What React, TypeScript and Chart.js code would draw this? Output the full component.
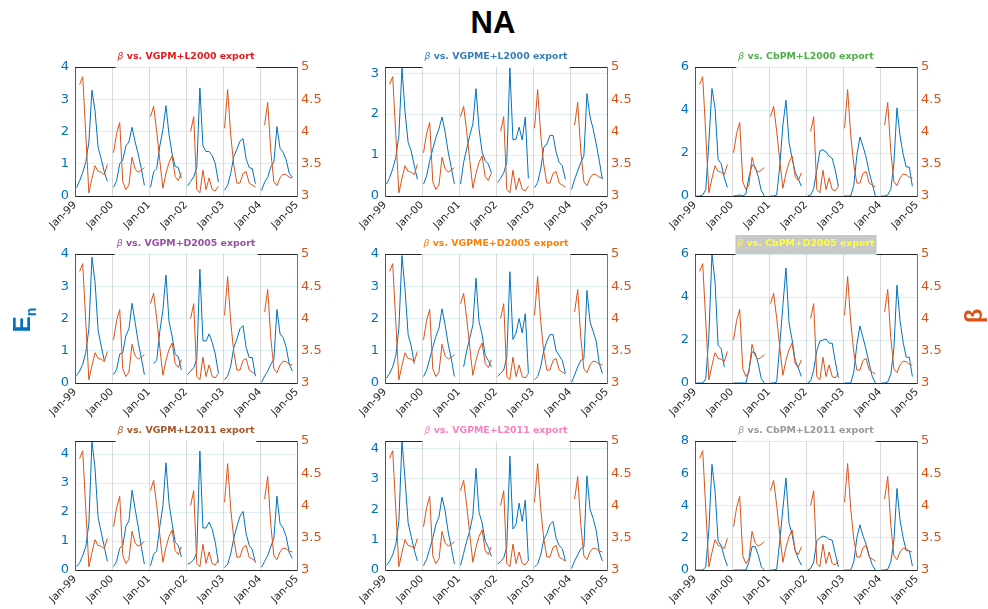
import React, { useEffect, useRef } from 'react';
import { Chart, registerables } from 'chart.js';

Chart.register(...registerables);

const N = null;

// x tick labels (one per January, 1999..2005)
const xTickLabels = ['Jan-99', 'Jan-00', 'Jan-01', 'Jan-02', 'Jan-03', 'Jan-04', 'Jan-05'];

// month index 0..71 (Jan-99 .. Dec-04), values at mid-month; Dec missing
// beta (right axis), same in every panel
const beta = [
  N, 4.73, 4.85, 3.95, 3.05, 3.27, 3.47, 3.38, 3.37, 3.33, 3.49, N,
  3.67, 3.97, 4.14, 3.22, 3.10, 3.17, 3.60, 3.42, 3.37, 3.40, 3.44, N,
  4.23, 4.39, 4.00, 3.55, 3.12, 3.35, 3.52, 3.62, 3.30, 3.24, 3.36, N,
  N, 4.00, 4.23, 3.10, 3.05, 3.40, 3.10, 3.28, 3.10, 3.08, 3.15, N,
  4.05, 4.65, 3.95, 3.48, 3.20, 3.20, 3.35, 3.38, 3.20, 3.17, 3.14, N,
  N, 4.10, 4.45, 3.70, 3.22, 3.16, 3.28, 3.34, 3.33, 3.29, 3.28, N,
];

// En (left axis), one series per panel
const enVGPM_L2000 = [
  0.26, 0.47, 0.73, 1.05, 1.68, 3.28, 2.65, 1.50, 1.15, 0.75, 0.45, N,
  0.27, 0.47, 1.00, 1.12, 1.55, 1.68, 2.13, 1.68, 1.30, 0.85, 0.33, N,
  0.27, 0.75, 0.85, 1.55, 2.05, 2.80, 1.90, 1.30, 0.92, 0.88, 0.55, N,
  0.32, 0.45, 0.60, 0.88, 3.35, 1.55, 1.38, 1.38, 1.25, 1.00, 0.43, N,
  0.18, 0.33, 0.70, 1.22, 1.45, 1.70, 1.78, 1.15, 0.88, 0.85, 0.38, N,
  0.17, 0.43, 0.58, 0.90, 1.05, 2.15, 1.48, 1.35, 1.12, 0.70, 0.58, N,
];
const enVGPME_L2000 = [
  0.29, 0.45, 0.66, 0.94, 1.48, 3.12, 2.05, 1.31, 1.10, 0.74, 0.41, N,
  0.29, 0.49, 0.86, 1.15, 1.43, 1.64, 1.93, 1.56, 1.07, 0.70, 0.29, N,
  0.29, 0.82, 1.15, 1.48, 1.76, 2.62, 1.64, 1.07, 0.86, 0.78, 0.57, N,
  0.33, 0.43, 0.57, 0.82, 3.13, 1.37, 1.39, 1.68, 1.37, 1.93, 0.43, N,
  0.20, 0.33, 0.66, 1.19, 1.27, 1.48, 1.48, 1.07, 0.82, 0.74, 0.41, N,
  0.16, 0.41, 0.61, 0.82, 0.98, 2.50, 1.93, 1.64, 1.27, 0.86, 0.41, N,
];
const enCbPM_L2000 = [
  0, 0, 0.05, 0.30, 2.50, 5.00, 4.10, 1.70, 1.50, 0.85, 0.40, N,
  0, 0.02, 0.05, 0, 0.10, 0.90, 1.45, 1.35, 0.90, 0.25, 0, N,
  0, 0, 0.05, 1.40, 3.30, 4.45, 2.50, 1.75, 1.10, 0.80, 0.45, N,
  0, 0.05, 0.35, 1.20, 2.10, 2.15, 2.05, 1.85, 1.75, 1.20, 0.45, N,
  0, 0, 0, 0.50, 1.90, 2.75, 2.30, 1.80, 1.10, 0.55, 0, N,
  0, 0, 0.05, 0.30, 1.50, 4.10, 2.80, 1.95, 1.35, 1.35, 0.45, N,
];
const enVGPM_D2005 = [
  0.23, 0.37, 0.58, 0.94, 1.68, 3.90, 3.14, 1.62, 1.15, 0.70, N, N,
  0.26, 0.42, 0.90, 0.94, 1.47, 1.68, 2.47, 1.88, 1.26, 0.79, 0.26, N,
  N, 0.60, 0.70, 1.60, 2.25, 3.35, 1.90, 1.45, 0.88, 0.82, 0.40, N,
  0.26, 0.37, 0.47, 0.73, 3.53, 1.31, 1.30, 1.52, 1.26, 0.90, 0.31, N,
  0.10, 0.21, 0.52, 1.10, 1.36, 1.68, 1.78, 1.10, 0.79, 0.79, 0.21, N,
  0.02, 0.21, 0.37, 0.58, 0.73, 2.28, 1.52, 1.41, 1.10, 0.58, 0.37, N,
];
const enVGPME_D2005 = [
  0.15, 0.30, 0.50, 0.85, 1.70, 3.95, 2.90, 1.50, 1.15, 0.60, N, N,
  0.20, 0.40, 0.75, 1.10, 1.45, 1.70, 2.30, 1.80, 1.20, 0.75, 0.20, N,
  N, 0.50, 1.00, 1.40, 1.80, 3.25, 1.90, 1.50, 0.85, 0.70, 0.50, N,
  0.20, 0.30, 0.40, 0.80, 3.45, 1.35, 1.55, 2.00, 1.55, 2.15, 0.30, N,
  0.10, 0.20, 0.50, 1.00, 1.30, 1.50, 1.50, 1.00, 0.85, 0.70, 0.30, N,
  0.02, 0.25, 0.50, 0.70, 0.75, 2.87, 1.90, 1.60, 1.30, 0.60, 0.30, N,
];
const enCbPM_D2005 = [
  0, 0, 0, 0.20, 2.20, 6.00, 4.70, 1.75, 1.60, 0.75, N, N,
  0, 0, 0, 0, 0, 0.60, 1.45, 1.40, 0.90, 0.20, 0, N,
  0, 0, 0.05, 1.80, 3.60, 5.35, 2.80, 2.00, 1.05, 0.70, 0.30, N,
  0, 0.10, 0.60, 1.50, 1.95, 2.00, 2.05, 1.85, 1.85, 1.00, 0.25, N,
  0, 0, 0, 0.50, 1.80, 2.65, 2.10, 1.55, 0.90, 0.30, 0, N,
  0, 0, 0.05, 0.40, 1.60, 4.55, 2.90, 1.90, 1.20, 1.20, 0.30, N,
];
const enVGPM_L2011 = [
  0.12, 0.25, 0.50, 0.80, 1.60, 4.45, 3.50, 1.80, 1.30, 0.80, 0.30, N,
  0.12, 0.30, 0.75, 0.85, 1.50, 1.70, 2.75, 2.10, 1.50, 0.80, 0.20, N,
  0.15, 0.55, 0.65, 1.50, 2.20, 3.70, 2.30, 1.60, 0.95, 0.85, 0.45, N,
  0.20, 0.25, 0.35, 0.60, 4.10, 1.45, 1.45, 1.65, 1.40, 0.95, 0.25, N,
  0.08, 0.20, 0.55, 1.10, 1.50, 1.85, 2.02, 1.25, 0.85, 0.70, 0.25, N,
  0.10, 0.30, 0.50, 0.80, 1.10, 2.55, 1.60, 1.45, 1.15, 0.60, 0.40, N,
];
const enVGPME_L2011 = [
  0.15, 0.30, 0.50, 0.85, 1.60, 4.25, 3.00, 1.55, 1.10, 0.65, 0.30, N,
  0.15, 0.35, 0.70, 1.05, 1.50, 1.75, 2.40, 1.95, 1.25, 0.75, 0.20, N,
  0.15, 0.55, 0.95, 1.30, 1.80, 3.35, 1.90, 1.55, 0.95, 0.75, 0.45, N,
  0.20, 0.28, 0.40, 0.75, 3.75, 1.35, 1.50, 2.20, 1.60, 2.30, 0.30, N,
  0.10, 0.20, 0.50, 1.00, 1.20, 1.50, 1.60, 1.05, 0.80, 0.70, 0.30, N,
  0.05, 0.30, 0.50, 0.70, 0.75, 3.10, 2.00, 1.70, 1.30, 0.60, 0.30, N,
];
const enCbPM_L2011 = [
  0, 0, 0, 0.20, 2.50, 6.55, 4.90, 1.80, 1.50, 0.80, 0.25, N,
  0, 0, 0, 0, 0, 0.50, 1.45, 1.45, 0.95, 0.20, 0, N,
  0, 0, 0.05, 1.80, 3.80, 5.70, 2.90, 2.20, 1.20, 0.70, 0.30, N,
  0, 0.10, 0.50, 1.80, 2.00, 2.10, 2.05, 1.90, 1.85, 1.00, 0.20, N,
  0, 0, 0, 0.50, 2.00, 2.80, 2.10, 1.60, 0.90, 0.30, 0, N,
  0, 0, 0.05, 0.50, 1.80, 5.05, 3.10, 2.00, 1.20, 1.20, 0.25, N,
];

const panelNames = [
  'VGPM+L2000', 'VGPME+L2000', 'CbPM+L2000',
  'VGPM+D2005', 'VGPME+D2005', 'CbPM+D2005',
  'VGPM+L2011', 'VGPME+L2011', 'CbPM+L2011',
];
const panelSeries = [
  enVGPM_L2000, enVGPME_L2000, enCbPM_L2000,
  enVGPM_D2005, enVGPME_D2005, enCbPM_D2005,
  enVGPM_L2011, enVGPME_L2011, enCbPM_L2011,
];
const panelLeftMax = [4, 3.15, 6, 4, 4, 6, 4.45, 4.25, 8];
const panelLeftStep = [1, 1, 2, 1, 1, 2, 1, 1, 2];
const titleColors = [
  '#E41A1C', '#377EB8', '#4DAF4A',
  '#984EA3', '#FF7F00', '#FFFF33',
  '#A65628', '#F781BF', '#999999',
];
const titleBackgrounds = [N, N, N, N, N, '#c8c8c8', N, N, N];

const BLUE = '#0072BD';
const ORANGE = '#D95319';
const DARK = '#262626';
const FONT = '"DejaVu Sans", "Liberation Sans", sans-serif';

const PLOT_W = 222;
const PLOT_H = 129;
const PAD_L = 35;
const PAD_R = 35;
const PAD_T = 22;
const AXIS_B = 40;
const colLefts = [75, 385, 695];
const rowTops = [67, 254, 441];

const toXY = (arr) => arr.map((v, i) => ({ x: i + 0.5, y: v }));

const panelDecor = {
  id: 'panelDecor',
  afterDraw(chart, _args, opts) {
    const { ctx, chartArea: a } = chart;
    const cx = (a.left + a.right) / 2;
    const fs = 9.4;
    const b = 'β';
    const rest = ' vs. ' + opts.name + ' export';
    ctx.save();
    ctx.font = `italic ${fs}px ${FONT}`;
    const w1 = ctx.measureText(b).width;
    ctx.font = `bold ${fs}px ${FONT}`;
    const w2 = ctx.measureText(rest).width;
    const tw = w1 + w2;
    const x0 = cx - tw / 2;
    const padX = 2;
    if (opts.bg) {
      ctx.fillStyle = opts.bg;
      ctx.fillRect(x0 - padX, a.top - 19, tw + 2 * padX, 19);
    }
    ctx.strokeStyle = DARK;
    ctx.lineWidth = 1;
    ctx.beginPath();
    ctx.moveTo(a.left, a.top + 0.5);
    ctx.lineTo(x0 - padX, a.top + 0.5);
    ctx.moveTo(x0 + tw + padX, a.top + 0.5);
    ctx.lineTo(a.right, a.top + 0.5);
    ctx.stroke();
    ctx.fillStyle = opts.color;
    ctx.textBaseline = 'middle';
    ctx.textAlign = 'left';
    const ty = a.top - 10.5;
    ctx.font = `italic ${fs}px ${FONT}`;
    ctx.fillText(b, x0, ty);
    ctx.font = `bold ${fs}px ${FONT}`;
    ctx.fillText(rest, x0 + w1, ty);
    ctx.restore();
  },
};

function Panel({ idx }) {
  const ref = useRef(null);
  useEffect(() => {
    const chart = new Chart(ref.current, {
      type: 'line',
      data: {
        datasets: [
          {
            label: 'β',
            data: toXY(beta),
            yAxisID: 'yR',
            borderColor: ORANGE,
            borderWidth: 1,
            pointRadius: 0,
            spanGaps: false,
            order: 0,
          },
          {
            label: 'En',
            data: toXY(panelSeries[idx]),
            yAxisID: 'yL',
            borderColor: BLUE,
            borderWidth: 1,
            pointRadius: 0,
            spanGaps: false,
            order: 1,
          },
        ],
      },
      options: {
        animation: false,
        responsive: false,
        events: [],
        layout: { padding: { top: PAD_T, left: 0, right: 0, bottom: 0 } },
        plugins: {
          legend: { display: false },
          tooltip: { enabled: false },
          title: { display: false },
          panelDecor: {
            name: panelNames[idx],
            color: titleColors[idx],
            bg: titleBackgrounds[idx],
          },
        },
        scales: {
          x: {
            type: 'linear',
            min: 0,
            max: 72,
            afterFit: (s) => { s.height = AXIS_B; },
            ticks: {
              stepSize: 12,
              autoSkip: false,
              minRotation: 45,
              maxRotation: 45,
              padding: 3,
              color: DARK,
              font: { family: FONT, size: 10.5 },
              callback: (v) => xTickLabels[Math.round(v / 12)],
            },
            grid: { color: 'rgba(0,0,0,0.15)', drawTicks: false },
            border: { color: DARK },
          },
          yL: {
            type: 'linear',
            position: 'left',
            min: 0,
            max: panelLeftMax[idx],
            afterFit: (s) => { s.width = PAD_L; },
            ticks: {
              stepSize: panelLeftStep[idx],
              includeBounds: false,
              padding: 6,
              color: BLUE,
              font: { family: FONT, size: 13 },
              callback: (v) => String(v),
            },
            grid: { color: 'rgba(0,114,189,0.12)', drawTicks: false },
            border: { color: BLUE },
          },
          yR: {
            type: 'linear',
            position: 'right',
            min: 3,
            max: 5,
            afterFit: (s) => { s.width = PAD_R; },
            ticks: {
              stepSize: 0.5,
              padding: 4,
              color: ORANGE,
              font: { family: FONT, size: 13 },
              callback: (v) => String(v),
            },
            grid: { drawOnChartArea: false, drawTicks: false },
            border: { color: ORANGE },
          },
        },
      },
      plugins: [panelDecor],
    });
    return () => chart.destroy();
  }, [idx]);

  const col = idx % 3;
  const row = Math.floor(idx / 3);
  const w = PAD_L + PLOT_W + PAD_R;
  const h = PAD_T + PLOT_H + AXIS_B;
  return (
    <canvas
      ref={ref}
      width={w}
      height={h}
      style={{
        position: 'absolute',
        left: colLefts[col] - PAD_L,
        top: rowTops[row] - PAD_T,
        width: w,
        height: h,
      }}
    />
  );
}

export default function App() {
  return (
    <div
      style={{
        position: 'fixed',
        left: 0,
        top: 0,
        width: 988,
        height: 609,
        background: '#fff',
        overflow: 'hidden',
      }}
    >
      <div
        style={{
          position: 'absolute',
          left: 443,
          top: 4,
          width: 100,
          height: 38,
          lineHeight: '38px',
          textAlign: 'center',
          fontFamily: '"Liberation Sans", Arial, sans-serif',
          fontWeight: 'bold',
          fontSize: 31,
          color: '#000',
        }}
      >
        NA
      </div>
      {panelNames.map((_, i) => (
        <Panel key={i} idx={i} />
      ))}
      <div
        style={{
          position: 'absolute',
          left: 22 - 40,
          top: 320 - 16,
          width: 80,
          height: 32,
          lineHeight: '32px',
          textAlign: 'center',
          transform: 'rotate(-90deg)',
          fontFamily: '"Liberation Sans", Arial, sans-serif',
          fontWeight: 'bold',
          fontSize: 24,
          color: BLUE,
        }}
      >
        E<sub style={{ fontSize: 14 }}>n</sub>
      </div>
      <div
        style={{
          position: 'absolute',
          left: 974 - 40,
          top: 316 - 16,
          width: 80,
          height: 32,
          lineHeight: '32px',
          textAlign: 'center',
          transform: 'rotate(-90deg)',
          fontFamily: '"Liberation Sans", Arial, sans-serif',
          fontWeight: 'bold',
          fontSize: 24,
          color: ORANGE,
        }}
      >
        β
      </div>
    </div>
  );
}
